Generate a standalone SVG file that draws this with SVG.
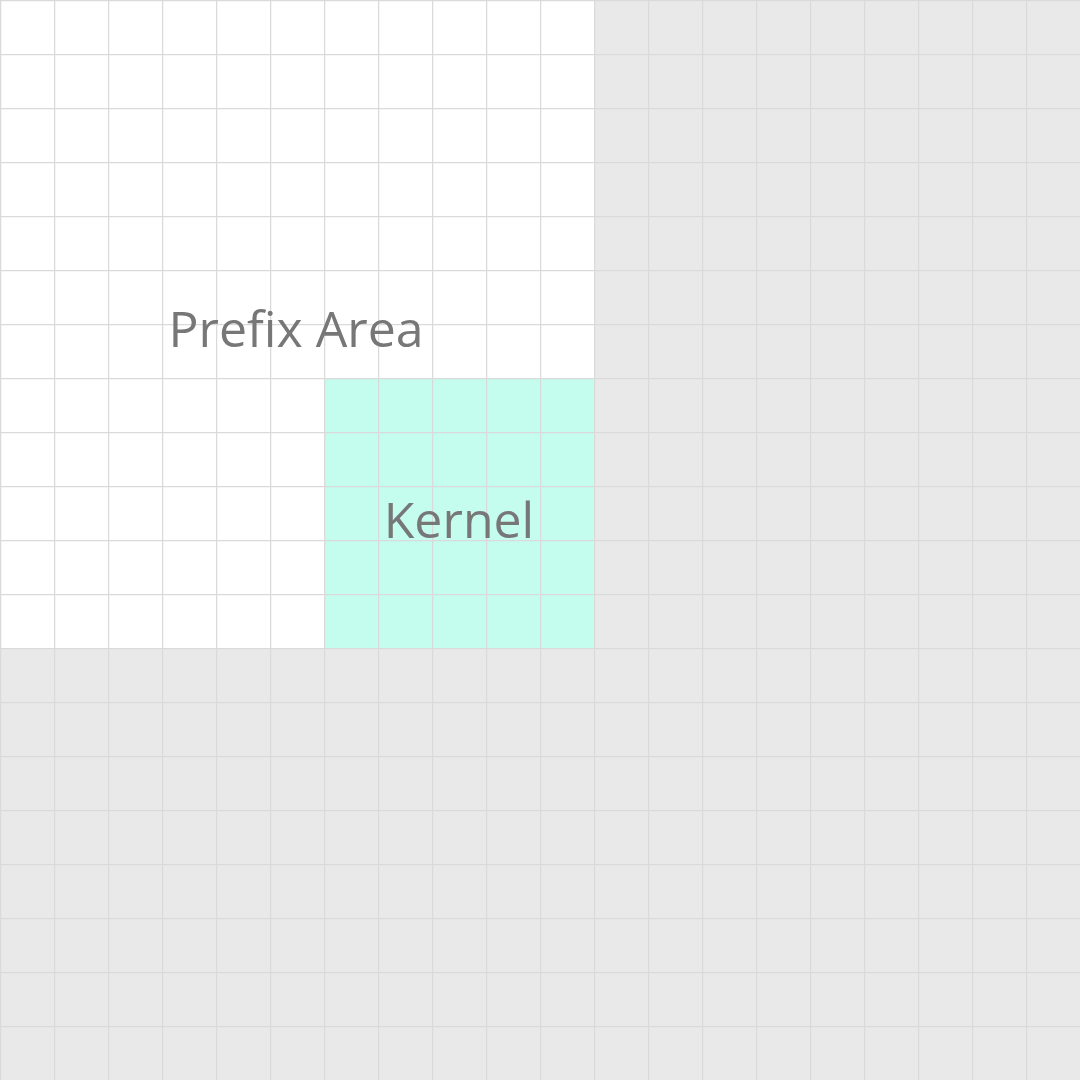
<svg xmlns="http://www.w3.org/2000/svg" width="1080" height="1080" viewBox="0 0 1080 1080">
  <defs>
    <pattern id="grid" x="0" y="0" width="54" height="54" patternUnits="userSpaceOnUse">
      <path d="M0 0H54M0 0V54" fill="none" stroke="#dadada" stroke-width="2.5"/>
    </pattern>
  </defs>
  <style>
    .lbl { font-family: "Open Sans", "Noto Sans", "DejaVu Sans", sans-serif; font-size: 50px; fill: #777777; text-anchor: middle; }
  </style>
  <rect x="0" y="0" width="1080" height="1080" fill="#e9e9e9"/>
  <g id="prefix-area">
    <path d="M0 0H594V378H324V648H0Z" fill="#ffffff"/>
  </g>
  <g id="kernel">
    <rect x="324" y="378" width="270" height="270" fill="#c4fcee"/>
  </g>
  <rect x="0" y="0" width="1081" height="1081" fill="url(#grid)"/>
  <text class="lbl" x="296" y="347">Prefix Area</text>
  <text class="lbl" x="459" y="538">Kernel</text>
</svg>
